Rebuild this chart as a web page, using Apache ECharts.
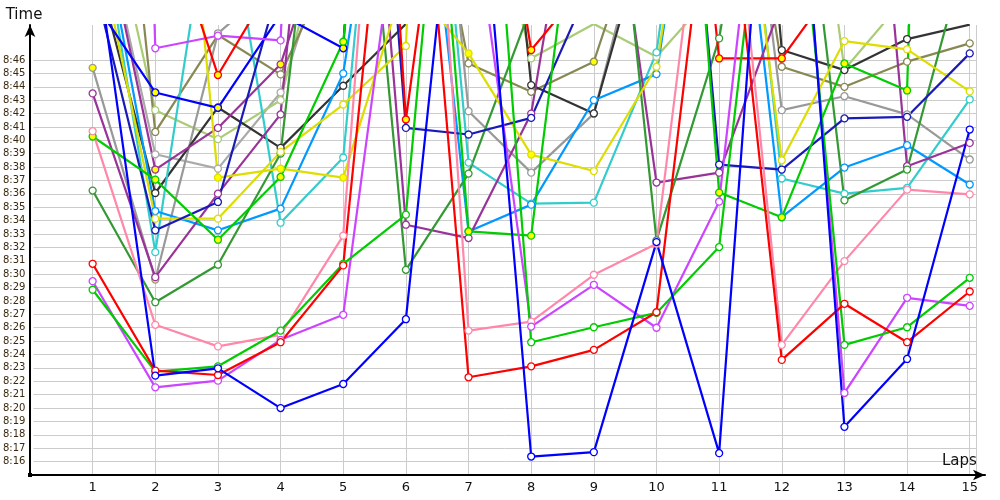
<!DOCTYPE html>
<html><head><meta charset="utf-8">
<script src="https://cdn.jsdelivr.net/npm/echarts@6/dist/echarts.min.js"></script>
<style>html,body{margin:0;padding:0;background:#fff}#c{width:1000px;height:500px}</style>
</head><body><div id="c"></div>
<script>
// Lap numbers
const laps = [1,2,3,4,5,6,7,8,9,10,11,12,13,14,15];
// Y tick labels (minutes after 8:00)
const yTicks = [16,17,18,19,20,21,22,23,24,25,26,27,28,29,30,31,32,33,34,35,36,37,38,39,40,41,42,43,44,45,46];
// Lap times in minutes after 8:00 (values above ~48.6 lie off the top of the chart)
const redLow     = [30.78,22.8,22.47,24.92,30.66,77,22.3,23.12,24.35,27.16,66,23.6,27.79,24.92,28.71];
const blueLow    = [55.7,22.42,22.97,20.0,21.8,26.64,71,16.38,16.71,32.4,16.63,80,18.6,23.67,40.81];
const greenLow   = [28.84,22.72,23.12,25.79,30.78,34.45,85,24.92,26.04,27.11,32.03,72,24.72,26.04,29.73];
const violetLow  = [29.48,21.55,22.05,25.1,26.97,62,60,26.09,29.21,26.0,35.42,77,21.13,28.24,27.64];
const pink       = [40.69,26.22,24.61,25.47,32.88,95,25.79,26.46,29.96,32.28,70,24.72,30.98,36.32,35.97];
const darkGreen  = [36.25,27.91,30.71,39.02,80,30.33,37.52,50,77,32.53,47.62,75,35.52,37.82,55.1];
const greenTop   = [40.29,37.07,32.58,37.27,47.37,90,33.2,32.88,70,95,36.1,34.25,45.75,43.73,200];
const redTop     = [60,59,44.88,52.7,115,41.56,76,46.75,52.4,90,46.12,46.12,52.6,58,60];
const blueTop    = [50.5,43.58,42.43,49.4,46.88,120,80,80,80,80,80,80,80,80,80];
const navy       = [52.25,33.28,35.4,52,100,40.93,40.44,41.68,52.2,89.9,38.19,37.82,41.64,41.76,46.5];
const black      = [53.9,36.07,42.46,39.44,44.08,48.7,90,44.13,42.01,58.5,100,46.75,45.25,47.57,48.65];
const olive      = [85,40.63,47.87,44.93,55,70,45.75,43.63,45.88,60,75,45.5,44.0,45.88,47.25];
const lightOlive = [63,42.26,40.09,43.0,62,70,65,46.13,48.7,46.25,51.5,80,45.3,50.8,52];
const gray       = [45.42,29.6,48.0,52,60,90,42.18,37.59,42.0,60,80,42.26,43.3,41.94,38.57];
const gray2      = [60,38.96,37.89,43.58,58,80,70,60,65,70,75,80,60,60,60];
const purple     = [43.51,29.78,36.02,41.94,90,33.7,32.7,42.0,70,36.85,37.59,50.3,90,38.07,39.81];
const purple2    = [60,37.82,40.93,45.68,60,80,80,80,80,80,80,80,80,80,80];
const violetTop  = [200,46.88,47.82,47.47,150,80,70,80,80,80,80,80,80,80,80];
const yellowA    = [56.4,34.15,34.15,39.14,42.68,47.05,150,90,90,90,90,90,90,90,90];
const yellowB    = [70,85,37.22,37.89,37.22,52.2,46.5,38.94,37.71,45.5,75,38.51,47.42,46.8,43.66];
const cyan       = [60,31.65,62,33.85,38.72,88,38.34,35.27,35.35,46.57,80,37.15,36.02,36.45,43.06];
const skyBlue    = [60,34.72,33.28,34.9,45.0,75,33.2,35.2,43.0,44.95,75,34.27,37.97,39.64,36.7];
// Laps whose marker is filled yellow
const yellowMarks = {
  greenTop:[1,2,3,4,5,7,8,11,12,13,14], redTop:[3,6,8,11,12], blueTop:[2,3,5],
  purple2:[2,4], yellowB:[3,4,5,7,8], olive:[9], gray:[1,2]
};

const defs = [
  ['gray2',gray2,'#aaaaaa'],['lightOlive',lightOlive,'#aacc77'],['olive',olive,'#888855'],
  ['gray',gray,'#999999'],['black',black,'#333333'],['cyan',cyan,'#33cccc'],
  ['skyBlue',skyBlue,'#0099ff'],['purple2',purple2,'#993399'],['purple',purple,'#993399'],
  ['darkGreen',darkGreen,'#339933'],['yellowA',yellowA,'#dddd00'],['yellowB',yellowB,'#dddd00'],
  ['navy',navy,'#1a1ab8'],['blueTop',blueTop,'#0000ff'],['violetTop',violetTop,'#cc44ff'],
  ['redTop',redTop,'#ff0000'],['greenTop',greenTop,'#00cc00'],['pink',pink,'#ff88aa'],
  ['violetLow',violetLow,'#cc44ff'],['greenLow',greenLow,'#00cc00'],['redLow',redLow,'#ff0000'],
  ['blueLow',blueLow,'#0000ff']
];

const series = defs.map(([name, arr, col]) => ({
  type:'line', name, xAxisIndex:1, yAxisIndex:1, clip:true,
  symbol:'circle', symbolSize:7, showAllSymbol:true,
  lineStyle:{color:col, width:2.2},
  itemStyle:{color:'#ffffff', borderColor:col, borderWidth:1.3},
  emphasis:{disabled:true},
  data: laps.map((l,i) => {
    const yl = (yellowMarks[name]||[]).includes(l);
    return yl ? {value:[l,arr[i]], itemStyle:{color:'#ffff00'}} : [l,arr[i]];
  })
}));

const chart = echarts.init(document.getElementById('c'), null, {renderer:'canvas'});
chart.setOption({
  animation:false,
  backgroundColor:'#ffffff',
  grid:[
    {left:30, right:24, top:60, bottom:25},   // horizontal gridlines + y labels
    {left:30, right:24, top:25, bottom:25},   // data
    {left:30, right:15, top:25, bottom:25}    // axis lines with arrows
  ],
  xAxis:[
    {gridIndex:0, type:'value', min:0, max:15.1, show:false},
    {gridIndex:1, type:'value', min:0, max:15.1, interval:1,
      axisLine:{show:false}, axisTick:{show:false},
      splitLine:{show:true, lineStyle:{color:'#cccccc', width:1}},
      axisLabel:{margin:6, fontSize:13, color:'#111', fontFamily:'DejaVu Sans',
        formatter:v => (v>=1 && v<=15) ? String(v) : ''}},
    {gridIndex:2, type:'value', min:0, max:15.24, show:true,
      axisLine:{show:true, lineStyle:{color:'#000', width:2}, symbol:['none','arrow'], symbolSize:[8,12]},
      axisTick:{show:false}, axisLabel:{show:false}, splitLine:{show:false},
      name:'Laps', nameLocation:'end', nameGap:-43,
      nameTextStyle:{fontSize:15, color:'#111', fontFamily:'DejaVu Sans', verticalAlign:'bottom', padding:[0,0,6,0]}}
  ],
  yAxis:[
    {gridIndex:0, type:'value', min:15, max:46, interval:1,
      axisLine:{show:false}, axisTick:{show:false},
      splitLine:{show:true, lineStyle:{color:'#cccccc', width:1}},
      axisLabel:{margin:8, fontSize:10, color:'#3a2a10', fontFamily:'DejaVu Sans', padding:[0,0,10,0],
        formatter:v => (v>=16 && v<=46) ? '8:' + v : ''}},
    {gridIndex:1, type:'value', min:15, max:48.62, show:false},
    {gridIndex:2, type:'value', min:0, max:1, show:true,
      axisLine:{show:true, lineStyle:{color:'#000', width:2}, symbol:['none','arrow'], symbolSize:[8,12]},
      axisTick:{show:false}, axisLabel:{show:false}, splitLine:{show:false},
      name:'Time', nameLocation:'end', nameGap:2,
      nameTextStyle:{fontSize:15, color:'#111', fontFamily:'DejaVu Sans', align:'center', padding:[0,0,0,-12]}}
  ],
  graphic:[{type:'rect', shape:{x:28, y:473, width:4, height:4}, style:{fill:'#000'}}],
  series
});
</script></body></html>
